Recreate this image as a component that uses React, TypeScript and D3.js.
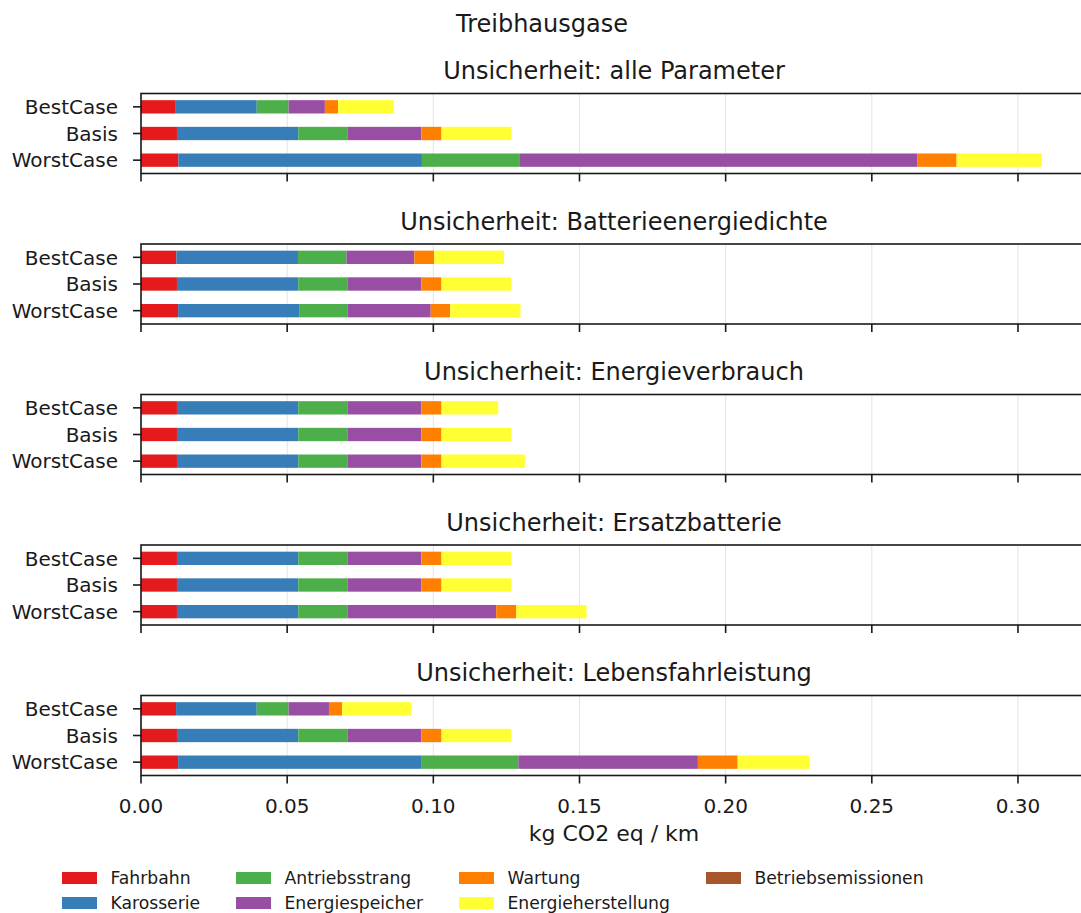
import React from 'react';
import * as d3 from 'd3';

const categories = ['BestCase', 'Basis', 'WorstCase'];
const seriesNames = ['Fahrbahn', 'Karosserie', 'Antriebsstrang', 'Energiespeicher', 'Wartung', 'Energieherstellung', 'Betriebsemissionen'];
const seriesColors = ['#e41a1c', '#377eb8', '#4daf4a', '#984ea3', '#ff7f00', '#ffff33', '#a65628'];
const panelTitles = [
  'Unsicherheit: alle Parameter',
  'Unsicherheit: Batterieenergiedichte',
  'Unsicherheit: Energieverbrauch',
  'Unsicherheit: Ersatzbatterie',
  'Unsicherheit: Lebensfahrleistung',
];
// rows: BestCase, Basis, WorstCase; columns follow seriesNames
const alleParameter = [
  [0.0119, 0.0277, 0.0109, 0.0124, 0.0045, 0.0191, 0],
  [0.0123, 0.0415, 0.0168, 0.0253, 0.0069, 0.0239, 0],
  [0.0128, 0.0833, 0.0333, 0.1361, 0.0135, 0.0292, 0],
];
const batterieenergiedichte = [
  [0.0121, 0.0416, 0.0166, 0.0232, 0.0068, 0.0239, 0],
  [0.0123, 0.0415, 0.0168, 0.0253, 0.0069, 0.0239, 0],
  [0.0127, 0.0416, 0.0163, 0.0285, 0.0067, 0.0240, 0],
];
const energieverbrauch = [
  [0.0123, 0.0415, 0.0168, 0.0253, 0.0069, 0.0194, 0],
  [0.0123, 0.0415, 0.0168, 0.0253, 0.0069, 0.0239, 0],
  [0.0123, 0.0415, 0.0168, 0.0253, 0.0069, 0.0285, 0],
];
const ersatzbatterie = [
  [0.0123, 0.0415, 0.0168, 0.0253, 0.0069, 0.0239, 0],
  [0.0123, 0.0415, 0.0168, 0.0253, 0.0069, 0.0239, 0],
  [0.0123, 0.0415, 0.0168, 0.0509, 0.0069, 0.0240, 0],
];
const lebensfahrleistung = [
  [0.0120, 0.0276, 0.0109, 0.0138, 0.0045, 0.0236, 0],
  [0.0123, 0.0415, 0.0168, 0.0253, 0.0069, 0.0239, 0],
  [0.0127, 0.0831, 0.0333, 0.0614, 0.0136, 0.0246, 0],
];
const panelData = [alleParameter, batterieenergiedichte, energieverbrauch, ersatzbatterie, lebensfahrleistung];
const xTicks = [0, 0.05, 0.1, 0.15, 0.2, 0.25, 0.3];
const suptitle = 'Treibhausgase';
const xLabel = 'kg CO2 eq / km';

const W = 1081;
const H = 913;
const FONT = 'DejaVu Sans, sans-serif';
const plotLeft = 141;
const plotRight = 1087;
const panelTop0 = 93.5;
const panelStep = 150.5;
const panelH = 80;
const ink = '#1a1a1a';
const legendCols = [62, 236, 459, 706];
const legendRows = [872, 897];

export default function App() {
  const totals = panelData.flatMap((p) => p.map((r) => d3.sum(r)));
  const xMax = (d3.max(totals) as number) * 1.05;
  const x = d3.scaleLinear().domain([0, xMax]).range([plotLeft, plotRight]);
  const fmt = d3.format('.2f');

  const panels = panelData.map((rows, pi) => {
    const top = panelTop0 + pi * panelStep;
    const y = d3.scalePoint<string>().domain(categories).range([top, top + panelH]).padding(0.5);
    const barH = y.step() * 0.5;
    const table = rows.map((r, ci) => {
      const o: any = { cat: categories[ci] };
      seriesNames.forEach((s, si) => (o[s] = r[si]));
      return o;
    });
    const stacked = d3.stack<any>().keys(seriesNames)(table);
    const isLast = pi === panelData.length - 1;
    return (
      <g key={pi}>
        {xTicks.map((t) => (
          <line key={'g' + t} x1={x(t)} x2={x(t)} y1={top} y2={top + panelH} stroke="#e3e3e3" strokeWidth={1} />
        ))}
        {stacked.map((layer, si) =>
          layer.map((d, ci) => (
            <rect
              key={si + '-' + ci}
              x={x(d[0])}
              width={Math.max(0, x(d[1]) - x(d[0]))}
              y={(y(categories[ci]) as number) - barH / 2}
              height={barH}
              fill={seriesColors[si]}
            />
          ))
        )}
        <rect x={plotLeft} y={top} width={plotRight - plotLeft} height={panelH} fill="none" stroke={ink} strokeWidth={1.6} />
        {categories.map((c) => (
          <g key={c}>
            <line x1={plotLeft - 8} x2={plotLeft} y1={y(c)} y2={y(c)} stroke={ink} strokeWidth={1.6} />
            <text x={plotLeft - 23} y={y(c)} dy="0.36em" textAnchor="end" fontSize={20} fontFamily={FONT} fill={ink}>
              {c}
            </text>
          </g>
        ))}
        {xTicks.map((t) => (
          <line key={'t' + t} x1={x(t)} x2={x(t)} y1={top + panelH} y2={top + panelH + 8} stroke={ink} strokeWidth={1.6} />
        ))}
        {isLast &&
          xTicks.map((t) => (
            <text key={'l' + t} x={x(t)} y={top + panelH + 37} textAnchor="middle" fontSize={20} fontFamily={FONT} fill={ink}>
              {fmt(t)}
            </text>
          ))}
        <text x={(plotLeft + plotRight) / 2} y={top - 14.5} textAnchor="middle" fontSize={24} fontFamily={FONT} fill={ink}>
          {panelTitles[pi]}
        </text>
      </g>
    );
  });

  const lastBottom = panelTop0 + (panelData.length - 1) * panelStep + panelH;

  return (
    <svg width={W} height={H} style={{ position: 'absolute', left: 0, top: 0, background: '#fff' }}>
      <rect width={W} height={H} fill="#fff" />
      <text x={542} y={32} textAnchor="middle" fontSize={24} fontFamily={FONT} fill={ink}>
        {suptitle}
      </text>
      {panels}
      <text x={(plotLeft + plotRight) / 2} y={lastBottom + 65} textAnchor="middle" fontSize={22} fontFamily={FONT} fill={ink}>
        {xLabel}
      </text>
      {seriesNames.map((s, i) => {
        const col = Math.floor(i / 2);
        const row = i % 2;
        const lx = legendCols[col];
        const ly = legendRows[row];
        return (
          <g key={s}>
            <rect x={lx} y={ly} width={35} height={12} fill={seriesColors[i]} />
            <text x={lx + 48.5} y={ly + 6} dy="0.36em" fontSize={17.2} fontFamily={FONT} fill={ink}>
              {s}
            </text>
          </g>
        );
      })}
    </svg>
  );
}
